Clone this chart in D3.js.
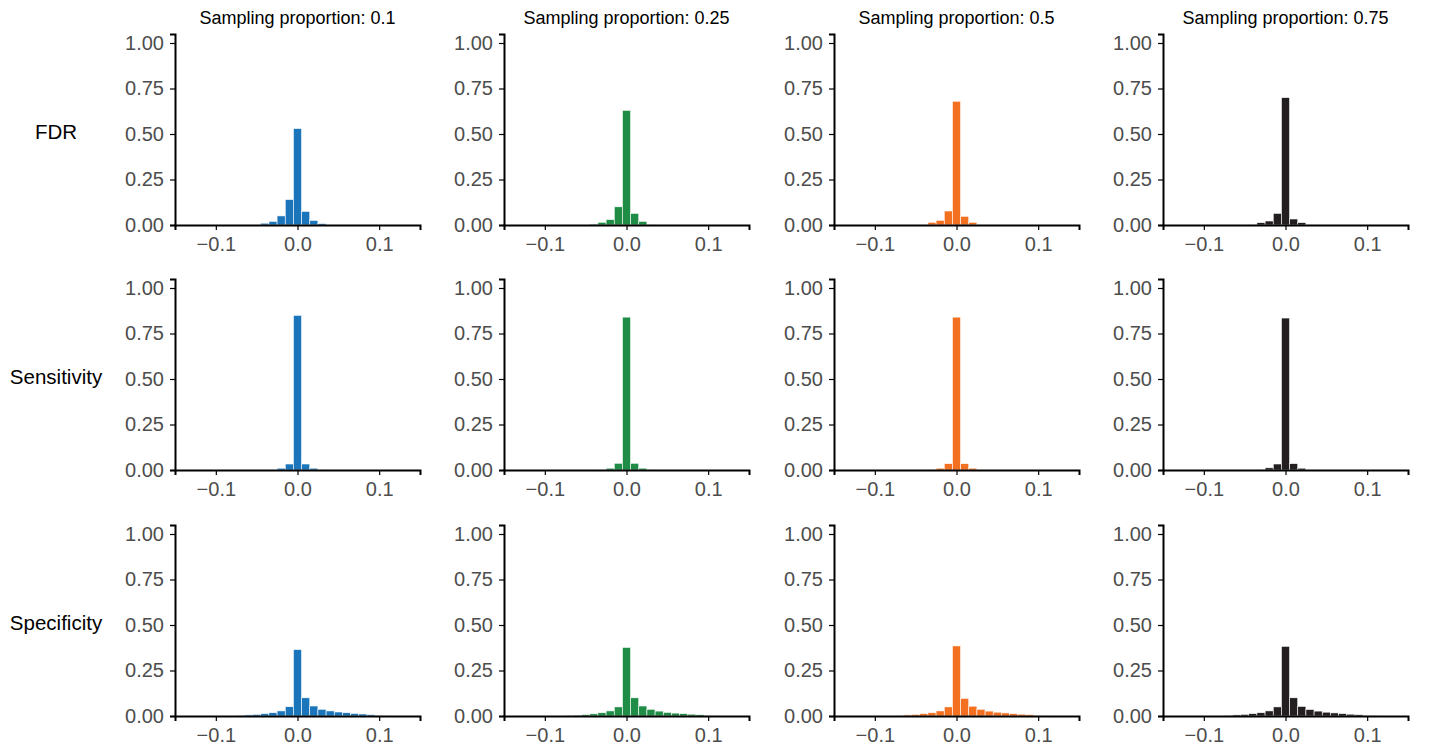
<!DOCTYPE html>
<html>
<head>
<meta charset="utf-8">
<script src="https://cdn.jsdelivr.net/npm/d3@7"></script>
<style>
  body { margin: 0; background: #fff; font-family: "Liberation Sans", Arial, Helvetica, sans-serif; }
  .tick text { fill: #4d4d4d; font-size: 20px; font-family: "Liberation Sans", Arial, sans-serif; }
  .domain, .tick line { stroke: #000; }
</style>
</head>
<body>
<script>
const proportions = ["0.1", "0.25", "0.5", "0.75"];
const metrics = ["FDR", "Sensitivity", "Specificity"];
const colours = ["#1b75bb", "#1f8d45", "#f37021", "#231f20"];
const binCenters = [-0.07, -0.06, -0.05, -0.04, -0.03, -0.02, -0.01, 0, 0.01, 0.02, 0.03, 0.04, 0.05, 0.06, 0.07, 0.08, 0.09, 0.10, 0.11];
const xTicks = [-0.1, 0, 0.1];
const yTicks = [0, 0.25, 0.5, 0.75, 1];

// one array per proportion, index matches binCenters
const fdrValues = [
  [0, 0, 0, 0.01, 0.02, 0.05, 0.14, 0.53, 0.075, 0.025, 0.008, 0, 0, 0, 0, 0, 0, 0, 0],
  [0, 0, 0, 0.005, 0.015, 0.03, 0.10, 0.63, 0.064, 0.02, 0.004, 0, 0, 0, 0, 0, 0, 0, 0],
  [0, 0, 0, 0.003, 0.015, 0.026, 0.077, 0.68, 0.048, 0.015, 0.003, 0, 0, 0, 0, 0, 0, 0, 0],
  [0, 0, 0, 0.003, 0.013, 0.022, 0.064, 0.70, 0.033, 0.013, 0.002, 0, 0, 0, 0, 0, 0, 0, 0]
];
const sensitivityValues = [
  [0, 0, 0, 0, 0.002, 0.01, 0.033, 0.85, 0.033, 0.01, 0.002, 0, 0, 0, 0, 0, 0, 0, 0],
  [0, 0, 0, 0, 0.003, 0.01, 0.037, 0.84, 0.037, 0.01, 0.003, 0, 0, 0, 0, 0, 0, 0, 0],
  [0, 0, 0, 0, 0.003, 0.01, 0.035, 0.84, 0.035, 0.01, 0.003, 0, 0, 0, 0, 0, 0, 0, 0],
  [0, 0, 0, 0, 0.003, 0.012, 0.033, 0.835, 0.035, 0.01, 0.002, 0, 0, 0, 0, 0, 0, 0, 0]
];
const specificityValues = [
  [0.004, 0.006, 0.009, 0.013, 0.018, 0.028, 0.051, 0.365, 0.10, 0.055, 0.037, 0.028, 0.022, 0.018, 0.014, 0.011, 0.007, 0.004, 0.002],
  [0.004, 0.005, 0.008, 0.012, 0.018, 0.028, 0.05, 0.377, 0.10, 0.055, 0.037, 0.027, 0.02, 0.016, 0.013, 0.01, 0.007, 0.004, 0.002],
  [0.004, 0.006, 0.009, 0.013, 0.018, 0.028, 0.05, 0.385, 0.097, 0.054, 0.037, 0.027, 0.021, 0.017, 0.013, 0.01, 0.007, 0.004, 0.002],
  [0.004, 0.006, 0.009, 0.013, 0.018, 0.028, 0.05, 0.383, 0.10, 0.053, 0.036, 0.027, 0.021, 0.017, 0.013, 0.01, 0.007, 0.004, 0.002]
];
const allValues = [fdrValues, sensitivityValues, specificityValues];

const binWidth = 0.01;
const panelLefts = [175, 504, 834, 1163];
const panelWidth = 245;
const panelBottoms = [225, 470, 716];
const unitHeight = 182;

const svg = d3.select("body").
  append("svg").
  attr("width", 1437).
  attr("height", 753);

const x = d3.scaleLinear().domain([-0.15, 0.15]).range([0, panelWidth]);
const y = d3.scaleLinear().domain([0, 1.05]).range([unitHeight * 1.05, 0]);

const drawPanel = (row, col) => {
  const g = svg.append("g").
    attr("transform", `translate(${panelLefts[col]},${panelBottoms[row] - unitHeight * 1.05})`);

  const data = binCenters.map((c, i) => ({ c, v: allValues[row][col][i] })).filter(d => d.v > 0);

  g.selectAll("rect").
    data(data).
    enter().
    append("rect").
    attr("x", d => x(d.c - binWidth / 2)).
    attr("width", d => x(d.c + binWidth / 2) - x(d.c - binWidth / 2)).
    attr("y", d => y(d.v)).
    attr("height", d => y(0) - y(d.v)).
    attr("fill", colours[col]).
    attr("stroke", "#fff").
    attr("stroke-width", 0.6);

  const xAxis = d3.axisBottom(x).tickValues(xTicks).tickSizeOuter(0).tickSize(5).tickPadding(7).
    tickFormat(d => d === 0 ? "0.0" : d3.format(".1f")(d).replace("-", "\u2212"));
  g.append("g").
    attr("transform", `translate(0,${y(0)})`).
    call(xAxis).
    call(a => a.select(".domain").attr("stroke-width", 2)).
    call(a => a.selectAll(".tick line").attr("stroke-width", 1.2));

  const yAxis = d3.axisLeft(y).tickValues(yTicks).tickSizeOuter(0).tickSize(5).tickPadding(6).
    tickFormat(d3.format(".2f"));
  g.append("g").
    call(yAxis).
    call(a => a.select(".domain").attr("stroke-width", 2)).
    call(a => a.selectAll(".tick line").attr("stroke-width", 1.2));
};

metrics.forEach((m, row) => {
  proportions.forEach((p, col) => drawPanel(row, col));
  svg.append("text").
    attr("x", 56).
    attr("y", panelBottoms[row] - unitHeight * 0.5).
    attr("text-anchor", "middle").
    attr("dominant-baseline", "middle").
    style("font-size", "20.5px").
    attr("fill", "#000").
    text(m);
});

proportions.forEach((p, col) => {
  svg.append("text").
    attr("x", panelLefts[col] + x(0)).
    attr("y", 24).
    attr("text-anchor", "middle").
    style("font-size", "18px").
    attr("fill", "#000").
    text(`Sampling proportion: ${p}`);
});
</script>
</body>
</html>
